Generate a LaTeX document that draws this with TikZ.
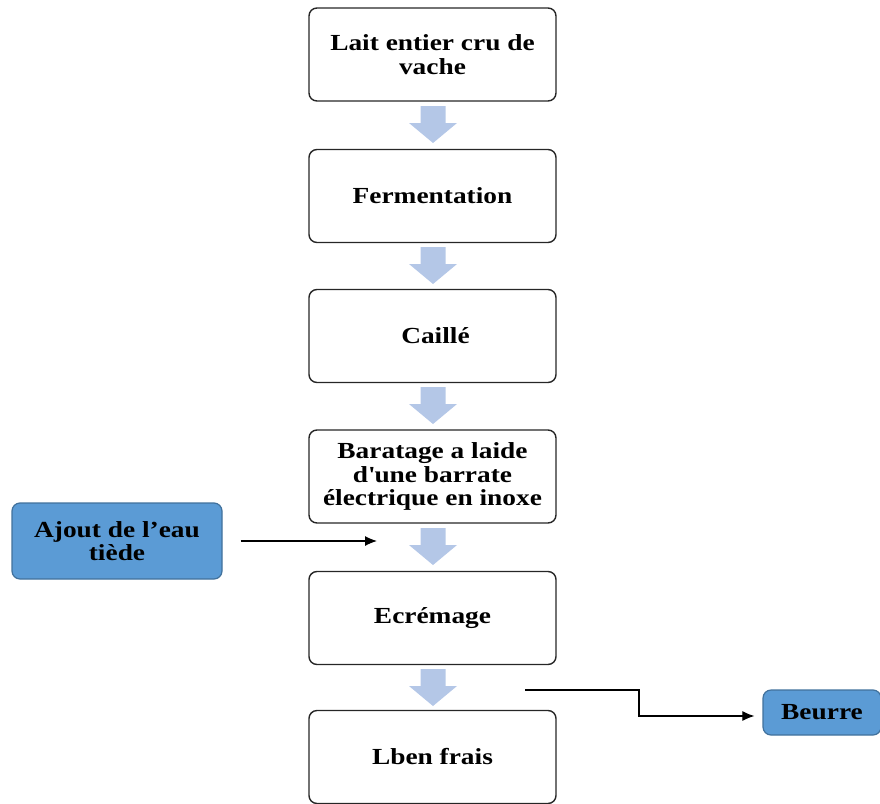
\documentclass[tikz,border=0pt]{standalone}
\usepackage{fontspec}
\setmainfont{Liberation Serif}[FakeStretch=1.19]
\usetikzlibrary{arrows.meta,calc}
\definecolor{arrowblue}{HTML}{B4C7E7}
\definecolor{sideblue}{HTML}{5B9BD5}
\definecolor{sideborder}{HTML}{41719C}
\tikzset{
  stepbox/.style={draw=black!85, line width=1.4pt, rounded corners=8pt, minimum width=247pt,
    minimum height=93pt, align=center, font=\fontsize{23}{23.5}\selectfont\bfseries, inner sep=0pt},
  sidebox/.style={draw=sideborder, line width=1.2pt, fill=sideblue, rounded corners=8pt, align=center,
    font=\fontsize{23}{23.5}\selectfont\bfseries, inner sep=0pt},
  link/.style={line width=1.1pt, -{Latex[length=12pt,width=10pt]}},
  darrow/.pic={\fill[arrowblue] (-12.5,0) -- (12.5,0) -- (12.5,17) -- (24,17) -- (0,37) -- (-24,17) -- (-12.5,17) -- cycle;}
}
\begin{document}
\begin{tikzpicture}[x=1pt,y=-1pt]
\useasboundingbox (0,0) rectangle (880,803);
\node[stepbox] (b1) at (432.5,54.5) {Lait entier cru de\\vache};
\node[stepbox] (b2) at (432.5,196) {Fermentation};
\node[stepbox] (b3) at (432.5,336) {\hspace*{6pt}Caillé};
\node[stepbox] (b4) at (432.5,476.5) {Baratage a laide\\d\textquotesingle une barrate\\électrique en inoxe};
\node[stepbox] (b5) at (432.5,618) {Ecrémage};
\node[stepbox] (b6) at (432.5,757) {Lben frais};
\pic at (433,106) {darrow};
\pic at (433,247) {darrow};
\pic at (433,387) {darrow};
\pic at (433,528) {darrow};
\pic at (433,669) {darrow};
\node[sidebox, minimum width=210pt, minimum height=76pt] (aj) at (117,541) {Ajout de l’eau\\tiède};
\node[sidebox, minimum width=118pt, minimum height=45pt] (be) at (822,712.5) {Beurre};
\coordinate (ajend) at (377,541);
\coordinate (bstart) at (525,690);
\draw[link] ($(aj.east)+(18,0)$) -- (ajend);
\draw[link] (bstart) -- (639,690) -- (639,716) -- ($(be.west)+(-8,3.5)$);
\end{tikzpicture}
\end{document}
